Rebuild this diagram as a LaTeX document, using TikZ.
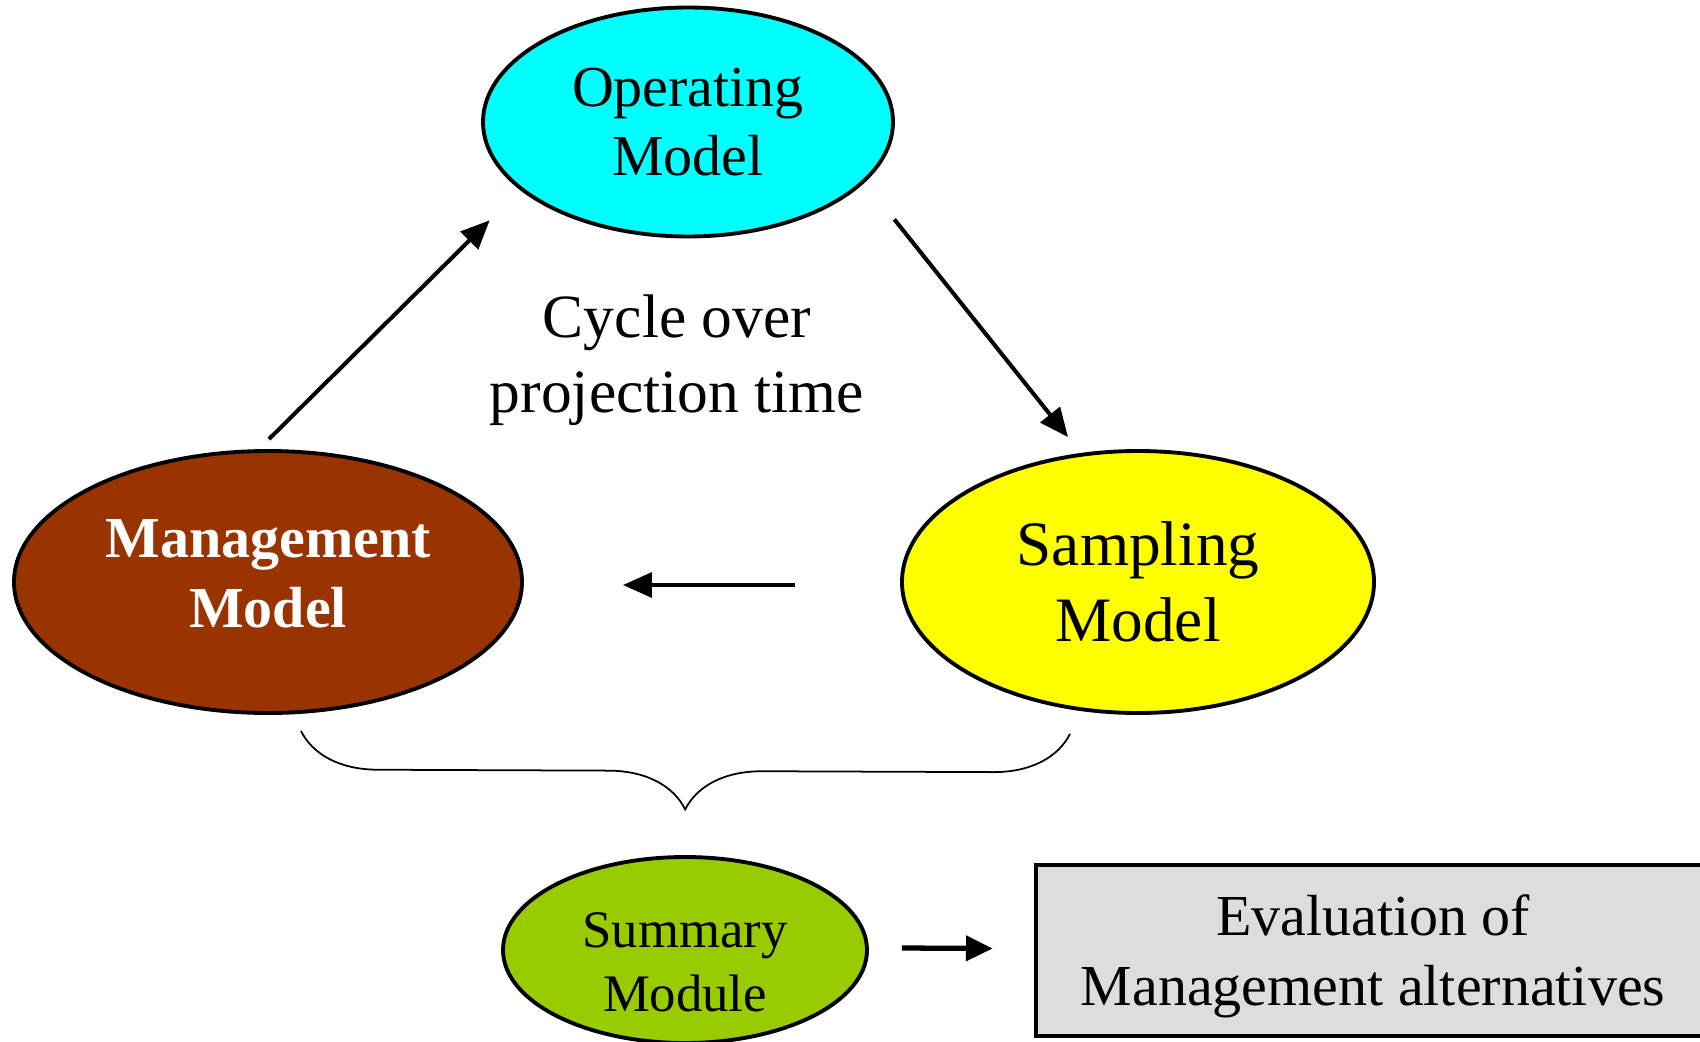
\documentclass[tikz,border=0pt]{standalone}
\usepackage{fontspec}
\setmainfont{Liberation Serif}
\usepackage{xcolor}
\usetikzlibrary{arrows.meta, positioning, calc, shapes.geometric, decorations.pathreplacing}

\definecolor{opcyan}{HTML}{00FFFF}
\definecolor{mgbrown}{HTML}{993300}
\definecolor{smyellow}{HTML}{FFFF00}
\definecolor{sugreen}{HTML}{99CC00}
\definecolor{evgray}{HTML}{DDDDDD}

\begin{document}
\begin{tikzpicture}[
    model/.style={ellipse, draw, line width=1.1pt, inner sep=0pt, align=center},
    evalbox/.style={rectangle, draw, line width=1.3pt, fill=evgray, inner sep=0pt, align=center},
    arrow/.style={-{Triangle[length=8.2pt,width=7pt]}, line width=1.15pt},
    brace/.style={decorate, decoration={brace, mirror, amplitude=0.77cm}, line width=0.5pt}
]
    \useasboundingbox (0,0) rectangle (17,-10.42);

    % --- Cycle Models ---
    \node[model, fill=opcyan, minimum width=4.10cm, minimum height=2.29cm,
          font=\fontsize{16.5}{19.6}\selectfont] (oper) at (6.88,-1.22) {Operating\\Model};
    % (zero-width rules only nudge the text inside the ellipse)
    \node[model, fill=mgbrown, text=white, minimum width=5.08cm, minimum height=2.62cm,
          font=\fontsize{16.5}{19.9}\selectfont\bfseries] (mgmt) at (2.68,-5.82) {Management\\Model\rule[-0.17cm]{0pt}{0pt}};
    \node[model, fill=smyellow, minimum width=4.72cm, minimum height=2.62cm,
          font=\fontsize{18}{21.6}\selectfont] (samp) at (11.38,-5.82) {Sampling\\Model};

    % centre text
    \node[align=center, font=\fontsize{17.5}{21.3}\selectfont] (cycle) at (6.77,-3.60) {Cycle over\\projection time};

    % --- Summary and Evaluation ---
    \node[model, fill=sugreen, minimum width=3.64cm, minimum height=1.86cm,
          font=\fontsize{15}{18.2}\selectfont] (summ) at (6.85,-9.50) {\rule{0pt}{0.60cm}Summary\\Module};
    \node[evalbox, minimum width=6.74cm, minimum height=1.71cm,
          font=\fontsize{16.5}{19.9}\selectfont] (eval) at (13.73,-9.505) {\rule{0pt}{0.52cm}Evaluation of\\Management alternatives};

    % --- Flow Arrows ---
    \draw[arrow] ($(mgmt.north)+(0.01,0.10)$) -- ($(oper.south west)+(-0.52,-0.16)$);
    \draw[arrow] ($(oper.south east)+(0.60,-0.15)$) -- ($(samp.north)+(-0.70,0.12)$);
    \draw[arrow] ($(samp.west)+(-1.05,-0.03)$) -- ($(mgmt.east)+(0.99,-0.03)$);

    % brace over the lower two models
    \draw[brace] ($(mgmt.south)+(0.33,-0.16)$) -- ($(samp.south)+(-0.68,-0.19)$);

    % Summary -> Evaluation
    \draw[-{Triangle[length=7.6pt,width=7pt]}, line width=1.5pt] ($(summ.east)+(0.33,0.02)$) -- ($(eval.west)+(-0.41,0.02)$);

\end{tikzpicture}
\end{document}
